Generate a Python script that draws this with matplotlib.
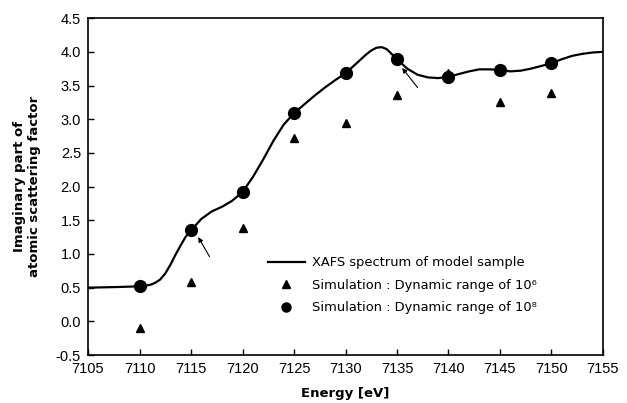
import matplotlib.pyplot as plt

# XAFS spectrum of the model sample
energy = [7105, 7108, 7110, 7111, 7111.5, 7112, 7112.5, 7113, 7113.5, 7114,
          7114.5, 7115, 7116, 7117, 7118, 7119, 7120, 7121, 7122, 7123, 7124,
          7125, 7126, 7127, 7128, 7129, 7130, 7131, 7132, 7132.5, 7133,
          7133.5, 7134, 7135, 7136, 7137, 7138, 7139, 7140, 7141, 7142, 7143,
          7144, 7145, 7146, 7147, 7148, 7149, 7150, 7151, 7152, 7153, 7154,
          7155]
spectrum = [0.50, 0.51, 0.52, 0.54, 0.57, 0.62, 0.71, 0.84, 0.99, 1.13,
            1.26, 1.35, 1.52, 1.63, 1.70, 1.79, 1.92, 2.14, 2.40, 2.68, 2.92,
            3.09, 3.22, 3.35, 3.47, 3.58, 3.68, 3.82, 3.96, 4.02, 4.06,
            4.07, 4.04, 3.89, 3.75, 3.66, 3.62, 3.61, 3.63, 3.67, 3.71, 3.74,
            3.74, 3.73, 3.71, 3.72, 3.75, 3.79, 3.83, 3.89, 3.94, 3.97, 3.99,
            4.00]

sim_energy = [7110, 7115, 7120, 7125, 7130, 7135, 7140, 7145, 7150]
dr6 = [-0.10, 0.59, 1.38, 2.72, 2.95, 3.36, 3.68, 3.25, 3.39]
dr8 = [0.52, 1.35, 1.92, 3.09, 3.68, 3.89, 3.63, 3.73, 3.83]

# arrows: (tail x, tail y, head x, head y)
arrows = [(7116.8, 0.96, 7115.7, 1.25), (7137.0, 3.47, 7135.5, 3.76)]

fig = plt.figure(figsize=(6.27, 4.03), dpi=100)
ax = fig.add_axes([0.1404, 0.119, 0.8213, 0.836])

ax.plot(energy, spectrum, 'k-', lw=1.6, label='XAFS spectrum of model sample')
ax.plot(sim_energy, dr6, 'k^', ms=6, ls='none',
        label='Simulation : Dynamic range of 10\u2076')
ax.plot(sim_energy, dr8, 'ko', ms=8.5, ls='none',
        label='Simulation : Dynamic range of 10\u2078')

for x0, y0, x1, y1 in arrows:
    ax.annotate('', xy=(x1, y1), xytext=(x0, y0),
                arrowprops=dict(arrowstyle='-|>', color='k', lw=0.8,
                                mutation_scale=7, shrinkA=0, shrinkB=0))

ax.set_xlim(7105, 7155)
ax.set_ylim(-0.5, 4.5)
ax.set_xticks(range(7105, 7156, 5))
ax.set_yticks([-0.5, 0, 0.5, 1, 1.5, 2, 2.5, 3, 3.5, 4, 4.5])
ax.set_yticklabels(['%.1f' % v for v in ax.get_yticks()])
ax.tick_params(direction='in', length=4, width=1, top=False, right=False,
               labelsize=10.5, pad=5)
for lab in ax.get_xticklabels() + ax.get_yticklabels():
    lab.set_family('Liberation Sans')
for sp in ax.spines.values():
    sp.set_linewidth(1.2)

ax.set_xlabel('Energy [eV]', fontweight='bold', fontsize=9.5, labelpad=8)
ax.set_ylabel('Imaginary part of\natomic scattering factor', fontweight='bold',
              fontsize=9.5, labelpad=11)

leg = ax.legend(loc='upper left', bbox_to_anchor=(0.3495, 0.293),
                frameon=False, fontsize=9.4, handlelength=2.8,
                handletextpad=0.6, borderpad=0, borderaxespad=0,
                labelspacing=0.72)
leg.legend_handles[2].set_markersize(6.5)

plt.savefig('out.png', dpi=100)
